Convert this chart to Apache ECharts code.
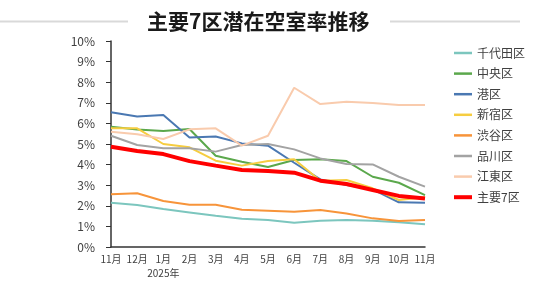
<!DOCTYPE html>
<html>
<head>
<meta charset="utf-8">
<script src="https://cdn.jsdelivr.net/npm/echarts@6/dist/echarts.min.js"></script>
<style>
  html, body { margin: 0; padding: 0; background: #fff; }
  #chart { width: 536px; height: 281px; }
</style>
</head>
<body>
<div id="chart"></div>
<script>
  // 月（2024年11月〜2025年11月）
  var months = ['11月', '12月', '1月', '2月', '3月', '4月', '5月', '6月', '7月', '8月', '9月', '10月', '11月'];
  var yearLabelIndex = 2;
  var yearLabel = '2025年';

  // 各区の潜在空室率(%)
  var chiyoda   = [2.15, 2.04, 1.84, 1.68, 1.52, 1.37, 1.31, 1.18, 1.28, 1.31, 1.28, 1.20, 1.10];
  var chuo      = [5.84, 5.70, 5.63, 5.73, 4.43, 4.14, 3.88, 4.22, 4.26, 4.17, 3.41, 3.12, 2.52];
  var minato    = [6.54, 6.34, 6.41, 5.31, 5.36, 5.03, 4.92, 4.09, 3.28, 3.01, 2.80, 2.17, 2.15];
  var shinjuku  = [5.76, 5.76, 5.00, 4.84, 4.19, 3.95, 4.18, 4.26, 3.22, 3.25, 2.85, 2.28, 2.41];
  var shibuya   = [2.56, 2.61, 2.23, 2.05, 2.05, 1.81, 1.76, 1.71, 1.80, 1.63, 1.39, 1.26, 1.31];
  var shinagawa = [5.40, 4.95, 4.79, 4.79, 4.63, 4.95, 5.00, 4.74, 4.30, 4.03, 4.01, 3.41, 2.93];
  var koto      = [5.60, 5.47, 5.24, 5.71, 5.76, 4.92, 5.40, 7.73, 6.94, 7.05, 6.99, 6.89, 6.89];
  var major7    = [4.87, 4.66, 4.51, 4.17, 3.95, 3.74, 3.69, 3.61, 3.22, 3.06, 2.77, 2.48, 2.35];

  var names  = ['千代田区', '中央区', '港区', '新宿区', '渋谷区', '品川区', '江東区', '主要7区'];
  var values = [chiyoda, chuo, minato, shinjuku, shibuya, shinagawa, koto, major7];
  var colors = ['#7cc6be', '#5ba84c', '#4a78b2', '#f6cd40', '#f7943a', '#a3a3a3', '#f9cbad', '#ff0000'];

  var chart = echarts.init(document.getElementById('chart'));

  var series = [];
  var legendData = [];
  for (var i = 0; i < names.length; i++) {
    var isTotal = names[i] === '主要7区';
    series.push({
      name: names[i],
      type: 'line',
      symbol: 'none',
      data: values[i],
      lineStyle: { color: colors[i], width: isTotal ? 4 : 2 },
      itemStyle: { color: colors[i] },
      z: isTotal ? 10 : 2
    });
    // 凡例は線だけ（主要7区は太め）
    legendData.push({
      name: names[i],
      icon: isTotal ? 'path://M0,0 L18,0 L18,4 L0,4 Z' : 'path://M0,0 L18,0 L18,2.5 L0,2.5 Z'
    });
  }

  var option = {
    animation: false,
    title: {
      text: '主要7区潜在空室率推移',
      left: 147,
      top: 11,
      padding: 0,
      textStyle: {
        fontFamily: 'Noto Sans CJK JP',
        fontWeight: 'bold',
        fontSize: 21,
        lineHeight: 21,
        color: '#1a1a1a'
      }
    },
    graphic: [
      { type: 'line', shape: { x1: 0, y1: 21.5, x2: 128, y2: 21.5 }, style: { stroke: '#d9d9d9', lineWidth: 2 } },
      { type: 'line', shape: { x1: 390, y1: 21.5, x2: 520, y2: 21.5 }, style: { stroke: '#d9d9d9', lineWidth: 2 } }
    ],
    legend: {
      orient: 'vertical',
      left: 454,
      top: 46,
      padding: 0,
      itemWidth: 18,
      itemHeight: 14,
      itemGap: 6.6,
      symbolKeepAspect: true,
      textStyle: {
        fontFamily: 'Noto Sans CJK JP',
        fontSize: 12,
        lineHeight: 14,
        color: '#404040'
      },
      data: legendData
    },
    grid: {
      left: 111,
      right: 111,
      top: 41,
      bottom: 34
    },
    xAxis: {
      type: 'category',
      boundaryGap: false,
      data: months,
      axisLine: { lineStyle: { color: '#333', width: 1.5 } },
      axisTick: { show: false },
      axisLabel: {
        margin: 5,
        fontFamily: 'Noto Sans CJK JP',
        fontSize: 10,
        lineHeight: 14,
        color: '#404040',
        interval: 0,
        formatter: function (v, idx) {
          return idx === yearLabelIndex ? v + '\n' + yearLabel : v;
        }
      }
    },
    yAxis: {
      type: 'value',
      min: 0,
      max: 10,
      interval: 1,
      axisLine: { show: true, lineStyle: { color: '#333', width: 1.5 } },
      axisTick: { show: true, inside: false, length: 5, lineStyle: { color: '#333' } },
      splitLine: { show: false },
      axisLabel: {
        margin: 16,
        fontFamily: 'Noto Sans CJK JP',
        fontSize: 12,
        color: '#404040',
        formatter: '{value}%'
      }
    },
    series: series
  };
  chart.setOption(option);
</script>
</body>
</html>
